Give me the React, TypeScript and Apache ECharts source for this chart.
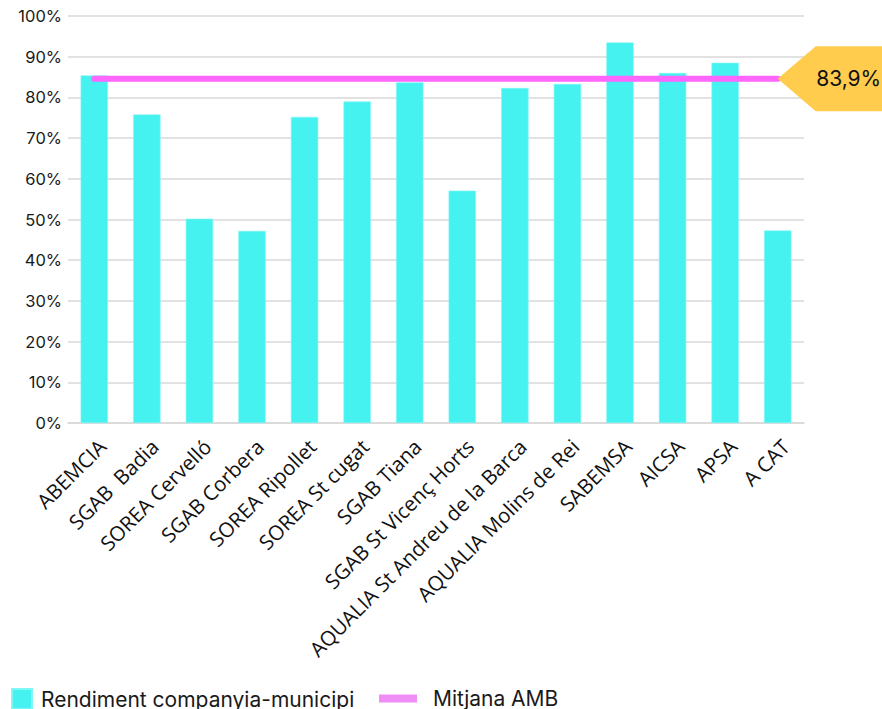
import React, { useEffect, useRef } from "react";
import * as echarts from "echarts";

const categories = [
  "ABEMCIA",
  "SGAB  Badia",
  "SOREA Cervelló",
  "SGAB Corbera",
  "SOREA Ripollet",
  "SOREA St cugat",
  "SGAB Tiana",
  "SGAB St Vicenç Horts",
  "AQUALIA St Andreu de la Barca",
  "AQUALIA Molins de Rei",
  "SABEMSA",
  "AICSA",
  "APSA",
  "A CAT",
];

const rendiment = [85.4, 75.8, 50.2, 47.2, 75.2, 79.0, 83.7, 57.1, 82.3, 83.3, 93.5, 86.0, 88.5, 47.3];

const mitjanaValue = 84.6;
const mitjanaLabel = "83,9%";
const mitjana = categories.map(() => mitjanaValue);

const yTicks = { min: 0, max: 100, interval: 10 };

const seriesNames = ["Rendiment companyia-municipi", "Mitjana AMB"];

export default function App() {
  const ref = useRef<HTMLDivElement>(null);
  useEffect(() => {
    if (!ref.current) return;
    const chart = echarts.init(ref.current, null, { renderer: "svg" });
    chart.setOption({
      animation: false,
      backgroundColor: "#ffffff",
      grid: { left: 68, right: 78, top: 16, bottom: 286, containLabel: false },
      legend: [
        {
          left: 6,
          top: 683,
          itemWidth: 20,
          itemHeight: 20,
          icon: "rect",
          data: [{ name: seriesNames[0], itemStyle: { color: "#46F2F0" } }],
          textStyle: { fontFamily: "Inter", fontSize: 21, color: "#1a1a1a", padding: [0, 0, 0, 4] },
        },
        {
          left: 374,
          top: 683,
          itemWidth: 38,
          itemHeight: 8,
          icon: "rect",
          data: [{ name: seriesNames[1], itemStyle: { color: "#F08CF5" } }],
          textStyle: { fontFamily: "Inter", fontSize: 21, color: "#1a1a1a", padding: [0, 0, 0, 11] },
        },
      ],
      xAxis: {
        type: "category",
        data: categories,
        boundaryGap: true,
        axisLine: { show: true, lineStyle: { color: "#D9D9D9", width: 1.5 } },
        axisTick: { show: false },
        axisLabel: {
          interval: 0,
          rotate: 45,
          align: "right",
          verticalAlign: "top",
          lineHeight: 22,
          margin: 12,
          fontFamily: "Open Sans",
          fontSize: 20.5,
          color: "#111111",
        },
      },
      yAxis: {
        type: "value",
        min: yTicks.min,
        max: yTicks.max,
        interval: yTicks.interval,
        axisLine: { show: false },
        axisTick: { show: false },
        splitLine: { lineStyle: { color: "#D9D9D9", width: 1.5 } },
        axisLabel: {
          formatter: "{value}%",
          margin: 6,
          fontFamily: "Inter",
          fontSize: 16.5,
          color: "#1a1a1a",
        },
      },
      series: [
        {
          name: seriesNames[0],
          type: "bar",
          data: rendiment,
          barWidth: "52%",
          itemStyle: { color: "#46F2F0", borderColor: "#7FF7F5", borderWidth: 0.6 },
        },
        {
          name: seriesNames[1],
          type: "line",
          data: mitjana,
          symbol: "none",
          clip: false,
          lineStyle: { color: "#FF66FF", width: 6, cap: "round" },
          itemStyle: { color: "#FF66FF" },
          z: 3,
          markPoint: {
            symbol: "path://M0,32.5 L38,0 L130,0 L130,65 L38,65 Z",
            symbolSize: [130, 65],
            symbolOffset: ["50%", 0],
            itemStyle: { color: "#FFCC4E" },
            label: {
              show: true,
              position: "inside",
              formatter: mitjanaLabel,
              fontFamily: "Inter",
              fontSize: 21,
              color: "#111111",
              offset: [6, 0],
            },
            data: [{ coord: [categories.length - 1, mitjanaValue] }],
          },
        },
      ],
    });
    return () => chart.dispose();
  }, []);
  return (
    <div
      ref={ref}
      style={{ position: "fixed", left: 0, top: 0, width: 882, height: 709 }}
    />
  );
}
